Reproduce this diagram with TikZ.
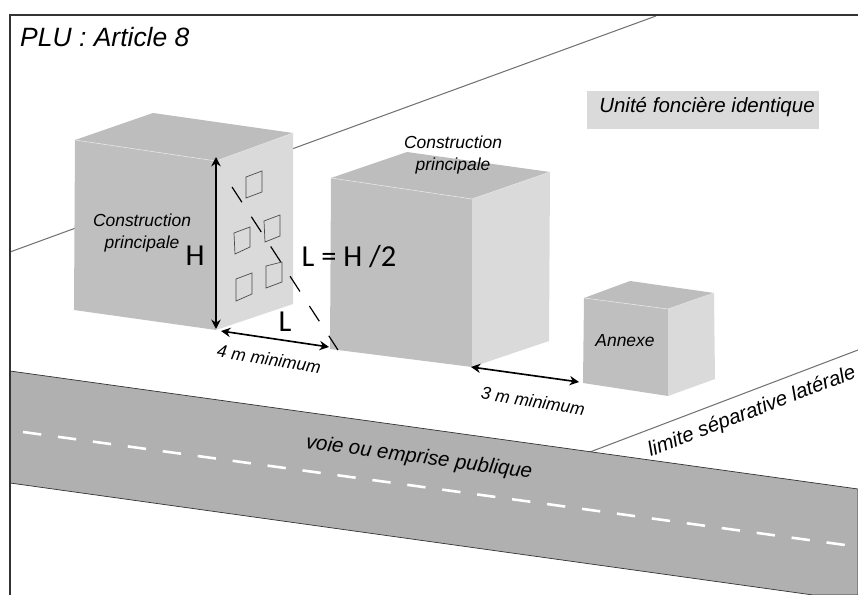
\documentclass[tikz,border=0pt]{standalone}
\usepackage{fontspec}
\setmainfont{Liberation Sans}
\newfontfamily\calfont{Carlito}
\usepackage{tikz}
\usetikzlibrary{arrows.meta}
\definecolor{frontgrey}{gray}{0.75}
\definecolor{sidegrey}{gray}{0.855}
\definecolor{roofgrey}{gray}{0.74}
\definecolor{roadgrey}{gray}{0.69}
\tikzset{
    labeltext/.style = {font = \itshape\fontsize{14.9}{18.7}\selectfont, align = center, inner sep = 0pt},
    bigtext/.style = {font = \calfont\fontsize{26}{30}\selectfont, inner sep = 0pt},
    measure/.style = {{Stealth[length = 8pt, width = 8pt]}-{Stealth[length = 8pt, width = 8pt]}, line width = 1.4pt, black},
    limit/.style = {draw = black!55, line width = 0.9pt},
    window/.style = {draw = black!70, line width = 0.6pt},
    ridge/.style = {white!90!black, line width = 0.5pt}
}

\begin{document}
\begin{tikzpicture}[x = 0.03cm, y = -0.03cm]
        \useasboundingbox (0, 0) rectangle (858, 595);
        % limits
        \draw[limit] (10, 252) -- (656, 16);
        \draw[limit] (590, 452) -- (858, 350);
        % road
        \filldraw[color = black!80, fill = roadgrey, line width = 0.6pt] (10, 371) -- (858, 489) -- (858, 595) -- (813, 595) -- (10, 483) -- cycle;
        \draw[white, line width = 2.2pt, dash pattern = on 15.7pt off 14.4pt] (23, 432) -- (845, 545);
        % frame
        \draw[black!80, line width = 1.2pt] (10, 595) -- (10, 15) -- (858, 15);
        % first building
        \fill[frontgrey] (75, 140) -- (216, 161) -- (216, 330) -- (74, 310) -- cycle;
        \fill[sidegrey] (216, 161) -- (293, 133) -- (293, 304) -- (216, 330) -- cycle;
        \fill[roofgrey] (75, 140) -- (153, 113) -- (293, 133) -- (216, 161) -- cycle;
        \draw[ridge] (75, 140) -- (216, 161) -- (293, 133);
        % windows
        \draw[window] (246, 177) -- (262, 171) -- (262, 192) -- (246, 198) -- cycle;
        \draw[window] (264, 221) -- (280, 215) -- (280, 236) -- (265, 242) -- cycle;
        \draw[window] (234, 233) -- (250, 227) -- (250, 247) -- (235, 254) -- cycle;
        \draw[window] (266, 266) -- (282, 262) -- (282, 282) -- (266, 288) -- cycle;
        \draw[window] (236, 279) -- (252, 273) -- (252, 294) -- (236, 301) -- cycle;
        % second building
        \fill[frontgrey] (331, 178) -- (472, 199) -- (472, 367) -- (330, 349) -- cycle;
        \fill[sidegrey] (472, 199) -- (550, 172) -- (549, 341) -- (472, 367) -- cycle;
        \fill[roofgrey] (331, 178) -- (407, 152) -- (550, 172) -- (472, 199) -- cycle;
        \draw[ridge] (331, 178) -- (472, 199) -- (550, 172);
        % annexe
        \fill[frontgrey] (584, 298) -- (668, 309) -- (668, 396) -- (583, 383) -- cycle;
        \fill[sidegrey] (668, 309) -- (714, 293) -- (715, 379) -- (668, 396) -- cycle;
        \fill[roofgrey] (584, 298) -- (630, 281) -- (714, 293) -- (668, 309) -- cycle;
        \draw[ridge] (584, 298) -- (668, 309) -- (714, 293);
        % distances
        \coordinate (corner a) at (232, 187);
        \coordinate (corner b) at (338, 350);
        \draw[black, line width = 1pt, dash pattern = on 15.5pt off 14.8pt] (corner a) -- (corner b);
        \coordinate (h top) at (216, 157);
        \coordinate (h bottom) at (216, 329);
        \draw[measure] (h top) -- (h bottom);
        \coordinate (four a) at (221, 331);
        \coordinate (four b) at (329, 347);
        \draw[measure] (four a) -- (four b);
        \coordinate (three a) at (471, 367);
        \coordinate (three b) at (579, 382);
        \draw[measure] (three a) -- (three b);
        % texts
        \node[labeltext, font = \itshape\fontsize{22.6}{26}\selectfont, anchor = west] (title) at (20, 37) {PLU : Article 8};
        \node[fill = sidegrey, minimum width = 232 * 0.03cm, minimum height = 38 * 0.03cm, inner sep = 0pt] (unit box) at (703, 110) {};
        \node[labeltext, font = \itshape\fontsize{17.5}{20}\selectfont] (unit) at (707, 107) {Unité foncière identique};
        \node[labeltext] (first name) at (142, 233) {Construction\\principale};
        \node[labeltext] (second name) at (453, 155) {Construction\\principale};
        \node[labeltext] (third name) at (625, 341) {Annexe};
        \node[bigtext] (height) at (195, 256) {H};
        \node[bigtext] (half) at (349, 257) {L = H /2};
        \node[bigtext] (length) at (285, 322) {L};
        \node[labeltext, rotate = -9] (four) at (269, 359) {4 m minimum};
        \node[labeltext, rotate = -9] (three) at (533, 401) {3 m minimum};
        \node[labeltext, font = \itshape\fontsize{17.5}{20}\selectfont, rotate = -7.6] (road) at (419, 458) {voie ou emprise publique};
        \node[labeltext, font = \itshape\fontsize{17.5}{20}\selectfont, rotate = 21] (limit) at (752, 412) {limite séparative latérale};
    \end{tikzpicture}
\end{document}
